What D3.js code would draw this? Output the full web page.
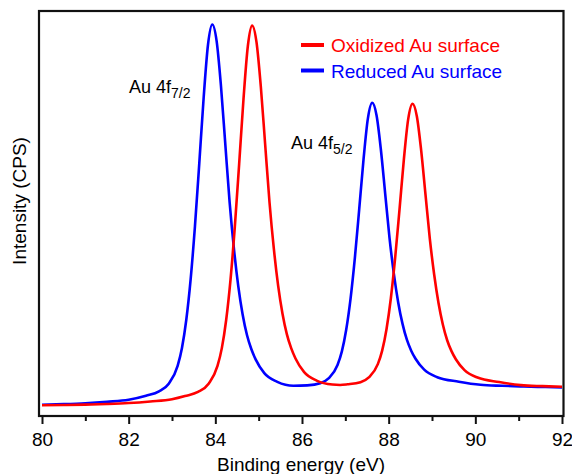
<!DOCTYPE html>
<html><head><meta charset="utf-8">
<script src="https://cdn.jsdelivr.net/npm/d3@7"></script>
<style>
html,body{margin:0;padding:0;background:#fff;}
svg{display:block;font-family:"Liberation Sans",Arial,Helvetica,sans-serif;}
</style></head>
<body>
<svg id="chart" width="572" height="474"></svg>
<script>
// Binding energy (eV) and intensity (arbitrary units)
const reducedEnergy = [80,80.5,81,81.5,82,82.4,82.7,82.93,83.13,83.23,83.33,83.43,83.53,83.63,83.73,83.83,83.93,84.03,84.13,84.23,84.33,84.43,84.53,84.63,84.73,84.83,84.93,85.13,85.43,85.8,86.12,86.42,86.62,86.82,86.92,87.02,87.12,87.22,87.32,87.42,87.52,87.62,87.72,87.82,87.92,88.02,88.12,88.22,88.32,88.42,88.52,88.62,88.82,89.12,89.62,90.12,90.62,91.12,91.62,92];
const reducedIntensity = [2.79,2.94,3.16,3.52,4.01,5.0,6.06,8.04,12.38,16.81,23.76,33.72,46.87,62.45,78.52,91.6,96.67,92.56,81.48,67.13,52.77,41.22,31.99,25.06,20.0,16.53,13.98,10.58,8.44,7.47,7.57,8.1,9.36,12.6,15.95,21.28,28.92,39.04,51.02,63.37,73.43,77.33,74.25,65.8,54.87,43.93,35.11,28.04,22.74,18.84,16.13,14.14,11.44,9.58,8.47,7.71,7.46,7.28,7.15,7.05];
const oxidizedEnergy = [80,80.5,81,81.5,82,82.5,83,83.3,83.6,83.85,84.05,84.15,84.25,84.35,84.45,84.55,84.65,84.75,84.85,84.95,85.05,85.15,85.25,85.35,85.45,85.55,85.65,85.75,85.85,86.05,86.35,86.7,86.88,87.05,87.35,87.55,87.75,87.85,87.95,88.05,88.15,88.25,88.35,88.45,88.55,88.65,88.75,88.85,88.95,89.05,89.15,89.25,89.35,89.45,89.55,89.75,90.05,90.55,91.05,91.55,92];
const oxidizedIntensity = [2.64,2.72,2.82,2.97,3.2,3.6,4.15,4.93,5.94,8.04,12.36,16.76,23.71,33.62,46.74,62.27,78.28,91.3,96.39,92.32,81.3,67.04,52.78,41.3,32.12,25.24,20.2,16.75,14.21,10.83,8.69,7.78,7.67,7.83,8.36,9.6,12.81,16.14,21.44,29.02,39.08,50.97,63.25,73.24,77.1,74.02,65.58,54.67,43.75,34.95,27.9,22.61,18.71,16.02,14.02,11.34,9.49,8.38,7.63,7.37,7.21];
const majorTicks = [80,82,84,86,88,90,92];
const minorTicks = [81,83,85,87,89,91];
const seriesNames = ["Oxidized Au surface","Reduced Au surface"];
const seriesColors = ["#ff0000","#0000ff"];

const svg = d3.select("#chart");
const frame = {left:39, right:563.5, top:11, bottom:416};
const x = d3.scaleLinear().domain([80,92]).range([42,562]);
const y = d3.scaleLinear().domain([0,100]).range([416,11]);

const line = d3.line().x(d=>x(d[0])).y(d=>y(d[1])).curve(d3.curveMonotoneX);
const reduced = reducedEnergy.map((e,i)=>[e,reducedIntensity[i]]);
const oxidized = oxidizedEnergy.map((e,i)=>[e,oxidizedIntensity[i]]);

svg.append("path").datum(reduced).attr("d",line).attr("fill","none")
  .attr("stroke",seriesColors[1]).attr("stroke-width",2.6).attr("stroke-linejoin","round");
svg.append("path").datum(oxidized).attr("d",line).attr("fill","none")
  .attr("stroke",seriesColors[0]).attr("stroke-width",2.6).attr("stroke-linejoin","round");

// frame
svg.append("rect").attr("x",frame.left).attr("y",frame.top)
  .attr("width",frame.right-frame.left).attr("height",frame.bottom-frame.top)
  .attr("fill","none").attr("stroke","#111").attr("stroke-width",2.2);

// x axis
const ax = svg.append("g").attr("transform",`translate(0,${frame.bottom})`)
  .call(d3.axisBottom(x).tickValues(majorTicks).tickSize(8).tickFormat(d3.format("d")));
ax.select(".domain").remove();
ax.selectAll(".tick line").attr("stroke","#111").attr("stroke-width",2);
ax.selectAll(".tick text").attr("font-size",19).attr("fill","#000")
  .attr("font-family","Liberation Sans, Arial, sans-serif").attr("dy","0.71em").attr("y",17);
const axm = svg.append("g").attr("transform",`translate(0,${frame.bottom})`)
  .call(d3.axisBottom(x).tickValues(minorTicks).tickSize(5).tickFormat(""));
axm.select(".domain").remove();
axm.selectAll(".tick line").attr("stroke","#111").attr("stroke-width",2);

svg.append("text").attr("x",301).attr("y",471).attr("text-anchor","middle")
  .attr("font-size",19).attr("fill","#000").text("Binding energy (eV)");
svg.append("text").attr("transform","translate(26,201) rotate(-90)").attr("text-anchor","middle")
  .attr("font-size",19).attr("fill","#000").text("Intensity (CPS)");

// legend
seriesNames.forEach((n,i)=>{
  const ly = 45 + i*25.5;
  svg.append("line").attr("x1",301).attr("x2",324).attr("y1",ly).attr("y2",ly)
    .attr("stroke",seriesColors[i]).attr("stroke-width",4);
  svg.append("text").attr("x",331).attr("y",ly+7).attr("font-size",19)
    .attr("fill",seriesColors[i]).text(n);
});

// peak labels
function peakLabel(px,py,sub){
  const t = svg.append("text").attr("x",px).attr("y",py).attr("font-size",18).attr("fill","#000");
  t.append("tspan").text("Au 4f");
  t.append("tspan").attr("font-size",14).attr("dy",5).text(sub);
}
peakLabel(129,93,"7/2");
peakLabel(291,149,"5/2");
</script>
</body></html>
